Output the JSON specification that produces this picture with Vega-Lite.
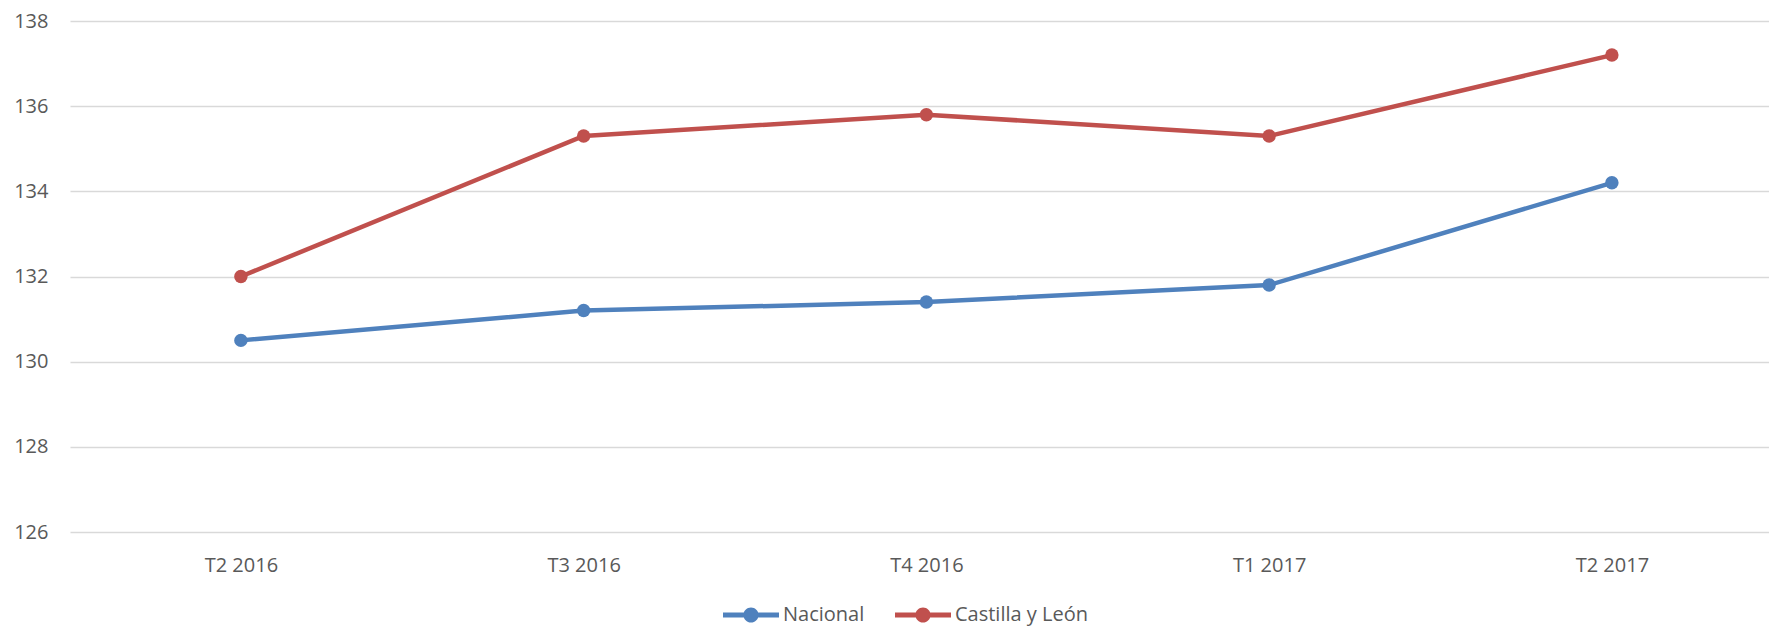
{
  "$schema": "https://vega.github.io/schema/vega-lite/v6.json",
  "autosize": {"type": "none"},
  "padding": {"left": 70, "top": 21, "right": 0, "bottom": 94},
  "width": 1699,
  "height": 511,
  "background": "white",
  "config": {
    "view": {"stroke": null},
    "font": "Open Sans",
    "axis": {"labelFont": "Open Sans", "labelFontSize": 20, "labelColor": "#595959", "domain": false, "ticks": false, "tickSize": 0, "title": null, "gridColor": "#D9D9D9", "gridWidth": 1.3}
  },
  "data": {
    "values": [
      {"periodo": "T2 2016", "serie": "Nacional", "valor": 130.5},
      {"periodo": "T3 2016", "serie": "Nacional", "valor": 131.2},
      {"periodo": "T4 2016", "serie": "Nacional", "valor": 131.4},
      {"periodo": "T1 2017", "serie": "Nacional", "valor": 131.8},
      {"periodo": "T2 2017", "serie": "Nacional", "valor": 134.2},
      {"periodo": "T2 2016", "serie": "Castilla y León", "valor": 132.0},
      {"periodo": "T3 2016", "serie": "Castilla y León", "valor": 135.3},
      {"periodo": "T4 2016", "serie": "Castilla y León", "valor": 135.8},
      {"periodo": "T1 2017", "serie": "Castilla y León", "valor": 135.3},
      {"periodo": "T2 2017", "serie": "Castilla y León", "valor": 137.2}
    ]
  },
  "encoding": {
    "x": {
      "field": "periodo", "type": "ordinal",
      "sort": ["T2 2016", "T3 2016", "T4 2016", "T1 2017", "T2 2017"],
      "scale": {"type": "point", "padding": 0.4785, "align": 0.521},
      "axis": {"labelAngle": 0, "grid": false, "labelPadding": 23}
    },
    "y": {
      "field": "valor", "type": "quantitative",
      "scale": {"domain": [126, 138], "zero": false, "nice": false},
      "axis": {"values": [126, 128, 130, 132, 134, 136, 138], "grid": true, "labelPadding": 22}
    },
    "color": {
      "field": "serie", "type": "nominal",
      "sort": ["Nacional", "Castilla y León"],
      "scale": {"domain": ["Nacional", "Castilla y León"], "range": ["#4F81BD", "#C0504D"]},
      "legend": {
        "orient": "none", "direction": "horizontal", "title": null,
        "legendX": 653, "legendY": 566,
        "symbolType": "M-1,-0.085 L1,-0.085 L1,0.085 L-1,0.085 Z M0.27,0 A0.27,0.27 0 1,1 -0.27,0 A0.27,0.27 0 1,1 0.27,0 Z",
        "symbolSize": 3136, "symbolStrokeWidth": 0,
        "labelFontSize": 20, "labelColor": "#595959", "labelFont": "Open Sans",
        "labelOffset": 4, "columnPadding": 30
      }
    }
  },
  "layer": [
    {"mark": {"type": "line", "strokeWidth": 4.5}},
    {"mark": {"type": "point", "filled": true, "opacity": 1, "size": 180}}
  ]
}
